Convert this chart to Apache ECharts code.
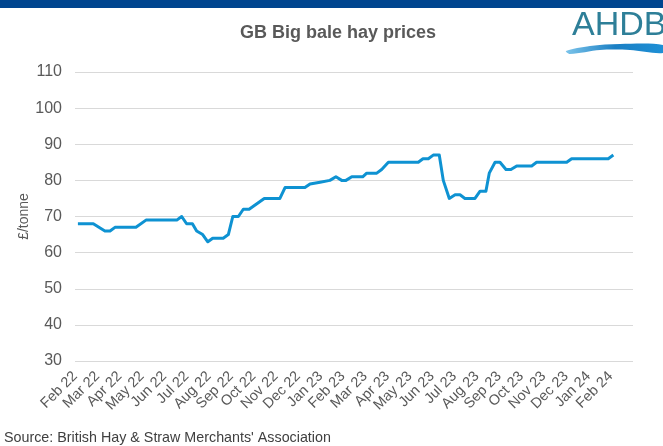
<!DOCTYPE html>
<html>
<head>
<meta charset="utf-8">
<script src="https://cdn.jsdelivr.net/npm/echarts@6/dist/echarts.min.js"></script>
<style>html,body{margin:0;padding:0;background:#fff}#c{width:663px;height:446px}</style>
</head>
<body>
<div id="c"></div>
<script>
// Tick labels (one per month, Feb 22 = 0)
const monthLabels = ['Feb 22','Mar 22','Apr 22','May 22','Jun 22','Jul 22','Aug 22','Sep 22','Oct 22','Nov 22','Dec 22','Jan 23','Feb 23','Mar 23','Apr 23','May 23','Jun 23','Jul 23','Aug 23','Sep 23','Oct 23','Nov 23','Dec 23','Jan 24','Feb 24'];
// Position of each price observation, in months since Feb 22
const obsMonth = [0.13,0.82,1.34,1.57,1.79,2.73,3.18,4.56,4.78,5.00,5.26,5.45,5.72,5.95,6.17,6.64,6.87,7.07,7.32,7.54,7.80,8.48,9.18,9.41,10.30,10.53,10.98,11.42,11.69,11.95,12.14,12.40,12.89,13.07,13.52,13.74,14.04,15.38,15.59,15.83,16.05,16.32,16.50,16.77,17.03,17.25,17.47,17.92,18.15,18.41,18.56,18.82,19.04,19.31,19.53,19.79,20.46,20.68,22.03,22.25,23.89,24.12];
// Price, £/tonne
const price = [68,68,66,66,67,67,69,69,70,68,68,66,65,63,64,64,65,70,70,72,72,75,75,78,78,79,79.5,80,81,80,80,81,81,82,82,83,85,85,86,86,87,87,80,75,76,76,75,75,77,77,82,85,85,83,83,84,84,85,85,86,86,87];
const yTicks = {min: 30, max: 110, step: 10};

const chart = echarts.init(document.getElementById('c'), null, {renderer: 'canvas'});
const grey = '#595959';
chart.setOption({
  animation: false,
  backgroundColor: '#fff',
  title: {
    text: 'GB Big bale hay prices',
    left: 333, top: 19, textAlign: 'center',
    textStyle: {fontFamily: 'Liberation Sans, Arial', fontSize: 18, fontWeight: 'bold', color: grey}
  },
  grid: {left: 75, right: 30, top: 72, bottom: 85, containLabel: false},
  xAxis: {
    type: 'value', min: 0, max: 25, interval: 1,
    axisLine: {show: false}, axisTick: {show: false}, splitLine: {show: false},
    axisLabel: {
      rotate: 45, margin: 13, color: grey, fontFamily: 'Liberation Sans, Arial', fontSize: 14.5,
      showMaxLabel: true, showMinLabel: true, hideOverlap: false,
      formatter: v => monthLabels[Math.round(v)] || ''
    }
  },
  yAxis: {
    type: 'value', min: yTicks.min, max: yTicks.max, interval: yTicks.step,
    name: '£/tonne', nameLocation: 'middle', nameGap: 44, nameRotate: 90, nameMoveOverlap: false,
    nameTextStyle: {color: grey, fontFamily: 'Liberation Sans, Arial', fontSize: 14},
    axisLine: {show: false}, axisTick: {show: false},
    splitLine: {lineStyle: {color: '#d9d9d9', width: 1}},
    axisLabel: {color: grey, fontFamily: 'Liberation Sans, Arial', fontSize: 16, margin: 13}
  },
  series: [{
    type: 'line',
    data: obsMonth.map((m, i) => [m, price[i]]),
    showSymbol: false,
    lineStyle: {color: '#0e92d2', width: 3, join: 'round'},
    itemStyle: {color: '#0e92d2'}
  }],
  graphic: [
    {type: 'rect', shape: {x: 0, y: 0, width: 663, height: 8}, style: {fill: '#00458f'}},
    {type: 'polygon', shape: {points: [[566,51],[590,46],[620,44],[663,45],[663,53],[630,50],[600,50],[570,54]], smooth: 0.3},
      style: {fill: new echarts.graphic.LinearGradient(0,0,1,0,[{offset:0,color:'#7cc4ea'},{offset:0.5,color:'#1a7fc4'},{offset:1,color:'#1e90d6'}])}},
    {type: 'text', left: 572, top: 9,
      style: {text: 'AHDB', font: '34px "Liberation Sans", Arial', fill: '#2e7f98'}},
    {type: 'text', left: 4, top: 431,
      style: {text: "Source: British Hay & Straw Merchants' Association", font: '14.3px "Liberation Sans", Arial', fill: '#404040'}}
  ]
});
</script>
</body>
</html>
